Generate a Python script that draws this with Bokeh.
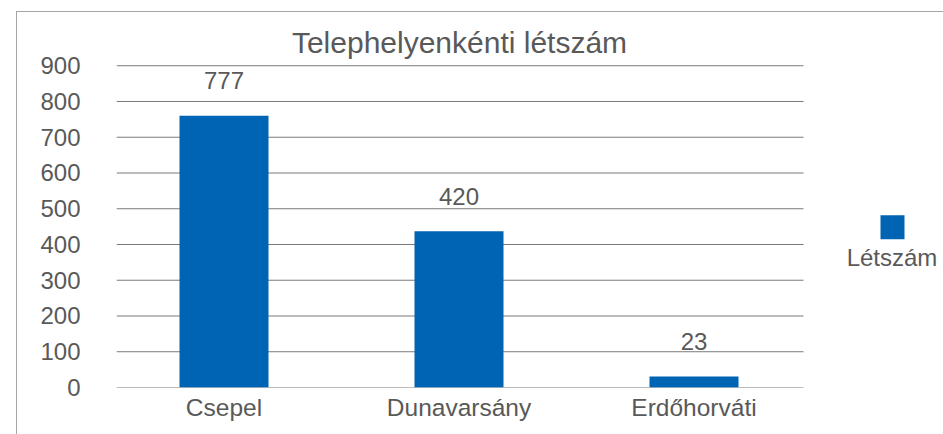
from bokeh.plotting import figure
from bokeh.models import Range1d, FixedTicker, Label, ColumnDataSource, InlineStyleSheet
from bokeh.core.properties import value
from bokeh.embed import file_html
from bokeh.resources import INLINE

# ---- data ----
categories = ["Csepel", "Dunavarsány", "Erdőhorváti"]
bar_values = [760, 437, 31]          # bar heights as drawn
label_values = ["777", "420", "23"]  # data labels as printed
y_ticks = [0, 100, 200, 300, 400, 500, 600, 700, 800, 900]
series_name = "Létszám"
title_text = "Telephelyenkénti létszám"

# ---- style ----
FONT = "Liberation Sans"
TXT = "#595959"
GRID = "#7a7a7a"
BAR = "#0064B4"
BORDER = "#a6a6a6"

W, H = 943, 434
FRAME_L, FRAME_B = 116, 387.3          # pixel position of plot frame left / zero line
PPU_X = 235.0                          # pixels per category
PPU_Y = 322.0 / 900                    # pixels per unit
x0 = 0.5 - (223.5 - FRAME_L) / PPU_X
x1 = x0 + (W - FRAME_L) / PPU_X
y1 = FRAME_B / PPU_Y

def dx(px):
    return x0 + (px - FRAME_L) / PPU_X
def dy(py):
    return (FRAME_B - py) / PPU_Y

xs = [i + 0.5 for i in range(len(categories))]

p = figure(width=W, height=H, output_backend="svg", toolbar_location=None,
           x_range=Range1d(x0, x1), y_range=Range1d(0, y1),
           min_border_left=FRAME_L, min_border_right=0,
           min_border_top=0, min_border_bottom=H - 387)
p.outline_line_color = None
p.background_fill_color = "white"
p.border_fill_color = "white"
p.xgrid.grid_line_color = None
p.ygrid.grid_line_color = None

# gridlines limited to plot area
p.segment(x0=[dx(116)] * len(y_ticks), x1=[dx(803)] * len(y_ticks),
          y0=y_ticks, y1=y_ticks, line_color=GRID, line_width=1)

src = ColumnDataSource(dict(x=xs, top=bar_values, lab=label_values))
p.vbar(x="x", top="top", width=89 / PPU_X, bottom=0, source=src,
       fill_color=BAR, line_color=None)
p.text(x="x", y="top", text="lab", source=src, text_align="center",
       text_baseline="middle", y_offset=-35, text_color=TXT,
       text_font=value(FONT), text_font_size="24px")

# axes
p.xaxis.ticker = FixedTicker(ticks=xs)
p.xaxis.major_label_overrides = {x: c for x, c in zip(xs, categories)}
p.yaxis.ticker = FixedTicker(ticks=y_ticks)
for ax in (p.xaxis, p.yaxis):
    ax.axis_line_color = None
    ax.major_tick_line_color = None
    ax.minor_tick_line_color = None
    ax.major_tick_out = 0
    ax.major_label_text_font = FONT
    ax.major_label_text_font_size = "24px"
    ax.major_label_text_color = TXT
p.xaxis.major_label_text_font_size = "24.5px"
p.xaxis.major_label_standoff = 6
p.yaxis.major_label_standoff = 36

# title
p.add_layout(Label(x=dx(459), y=dy(42), text=title_text, text_align="center",
                   text_baseline="alphabetic", text_font=FONT, text_font_size="30px",
                   text_color=TXT))

# legend
p.rect(x=[dx(892)], y=[dy(227)], width=24 / PPU_X, height=24 / PPU_Y,
       fill_color=BAR, line_color=None)
p.add_layout(Label(x=dx(891.5), y=dy(257), text=series_name, text_align="center",
                   text_baseline="alphabetic", text_font=FONT, text_font_size="24px",
                   text_color=TXT))

# outer chart border (top + left edge of the chart area)
p.stylesheets = [InlineStyleSheet(css="""
:host { position: relative; }
:host::after { content: ''; position: absolute; left: 16px; top: 11px; right: 0; bottom: 0;
  border-left: 1px solid %s; border-top: 1px solid %s; pointer-events: none; }
""" % (BORDER, BORDER))]

open("out.html", "w").write(file_html(p, INLINE))
